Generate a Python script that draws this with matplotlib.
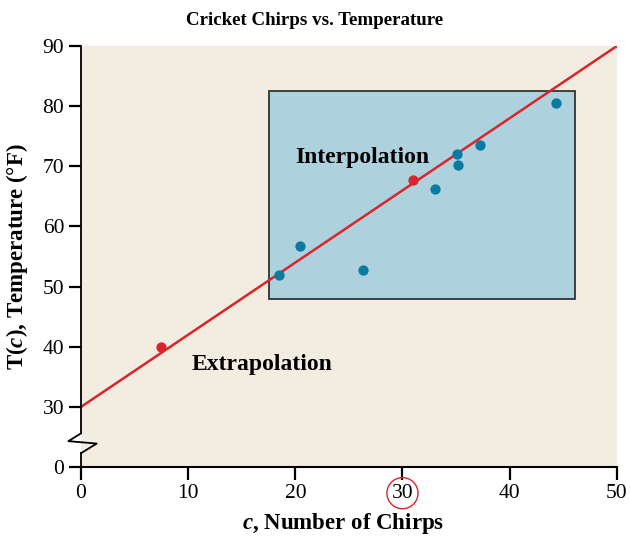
import matplotlib
matplotlib.use('Agg')
import matplotlib.pyplot as plt
import numpy as np
from matplotlib.patches import Rectangle

plt.rcParams['font.family'] = ['Liberation Serif', 'DejaVu Serif']
plt.rcParams['mathtext.fontset'] = 'custom'
plt.rcParams['mathtext.it'] = 'Liberation Serif:italic:bold'
plt.rcParams['mathtext.rm'] = 'Liberation Serif:bold'

# ---- data ----
chirps = [18.5, 20.4, 26.3, 33.0, 35.1, 35.2, 37.2, 44.3]
temps = [52.0, 56.8, 52.8, 66.2, 72.0, 70.2, 73.5, 80.6]
pred_chirps = [7.5, 31.0]
pred_temps = [40.0, 67.7]
slope, intercept = 1.2, 30.0
interp_c = [17.5, 46.1]
interp_t = [47.9, 82.6]
x_ticks = [0, 10, 20, 30, 40, 50]
y_ticks = [20, 30, 40, 50, 60, 70, 80, 90]
y_tick_labels = ['0', '30', '40', '50', '60', '70', '80', '90']

BG = '#f3ede1'
BOX = '#aed2dd'
BLUE = '#0b7aa1'
RED = '#d9252b'

fig = plt.figure(figsize=(6.3, 5.36), dpi=100)
ax = fig.add_axes([0.1286, 0.1287, 0.8504, 0.7853])
ax.set_facecolor(BG)
ax.set_xlim(0, 50)
ax.set_ylim(20, 90)

# interpolation box
ax.add_patch(Rectangle((interp_c[0], interp_t[0]), interp_c[1] - interp_c[0],
                       interp_t[1] - interp_t[0], facecolor=BOX,
                       edgecolor='#333333', lw=1.3, zorder=1))

# fit line
lx = np.array([0, 50])
ax.plot(lx, slope * lx + intercept, color=RED, lw=1.8, zorder=2)

ax.scatter(chirps, temps, s=55, color=BLUE, zorder=3, linewidths=0)
ax.scatter(pred_chirps, pred_temps, s=55, color=RED, zorder=3, linewidths=0)

ax.text(20.0, 71.4, 'Interpolation', fontsize=17, fontweight='bold',
        va='center', ha='left', zorder=4)
ax.text(10.35, 37.1, 'Extrapolation', fontsize=17, fontweight='bold',
        va='center', ha='left', zorder=4)

# spines
for s in ['top', 'right', 'left']:
    ax.spines[s].set_visible(False)
ax.spines['bottom'].set_linewidth(1.5)

# left spine with break
kw = dict(color='black', lw=1.3, clip_on=False, zorder=5)
ax.plot([0, 0], [20, 22.3], **kw)
ax.plot([0, 1.46, -1.18, 0], [22.3, 23.9, 24.3, 25.6], **kw)
ax.plot([0, 0], [25.6, 90], **kw)

ax.set_xticks(x_ticks)
ax.set_yticks(y_ticks)
ax.set_yticklabels(y_tick_labels)
ax.tick_params(axis='both', direction='out', length=9, width=1.6,
               labelsize=15.5, pad=3)

for lbl in ax.get_xticklabels():
    if lbl.get_text() == '30':
        lbl.set_bbox(dict(boxstyle='circle,pad=0.22', fc='none', ec=RED, lw=1.0))

ax.set_xlabel(r'$c$, Number of Chirps', fontsize=16.5, fontweight='bold')
ax.xaxis.set_label_coords(0.49, -0.105)
ax.set_ylabel(r'T($c$), Temperature (°F)', fontsize=16.5, fontweight='bold')
ax.yaxis.set_label_coords(-0.095, 0.5)
fig.text(0.5, 0.962, 'Cricket Chirps vs. Temperature', fontsize=13.6,
         fontweight='bold', ha='center', va='center')

fig.savefig('out.png', dpi=100, facecolor='white')
